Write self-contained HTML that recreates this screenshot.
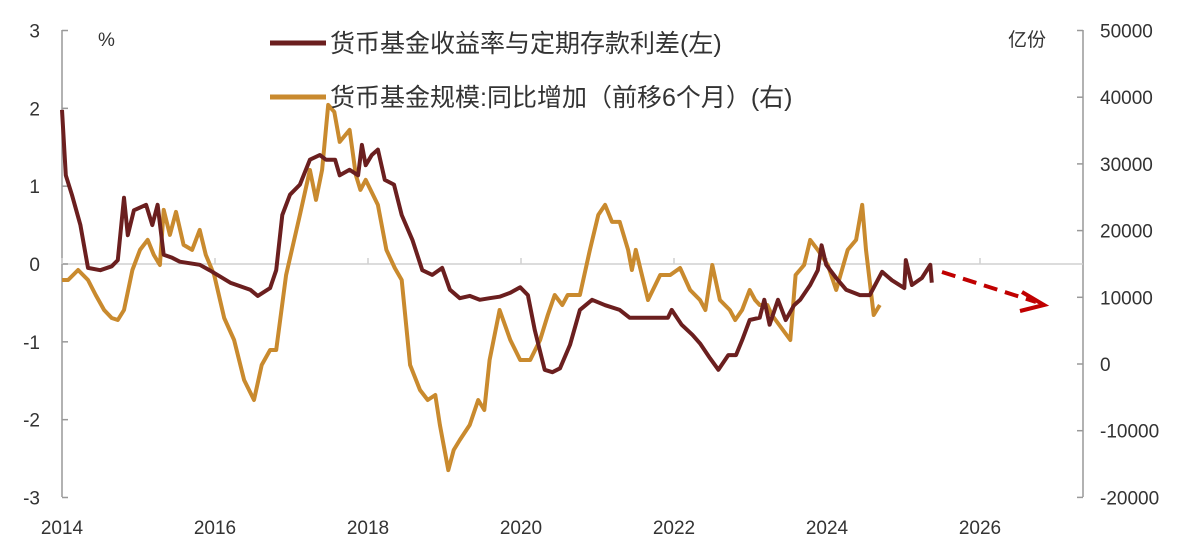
<!DOCTYPE html>
<html><head><meta charset="utf-8"><style>
body{margin:0;background:#fff;}
svg{display:block;font-family:"Liberation Sans","Noto Sans CJK SC",sans-serif;}
</style></head><body>
<svg id="chart" width="1197" height="555" viewBox="0 0 1197 555"></svg>
<script>
const spreadYears=[2014.00,2014.05,2014.13,2014.24,2014.34,2014.50,2014.65,2014.73,2014.81,2014.86,2014.94,2015.10,2015.18,2015.25,2015.33,2015.44,2015.54,2015.80,2015.93,2016.20,2016.46,2016.56,2016.72,2016.80,2016.88,2016.98,2017.11,2017.24,2017.37,2017.45,2017.57,2017.63,2017.76,2017.87,2017.92,2017.97,2018.05,2018.13,2018.22,2018.34,2018.44,2018.58,2018.71,2018.84,2018.97,2019.07,2019.20,2019.33,2019.46,2019.59,2019.72,2019.86,2019.99,2020.09,2020.18,2020.31,2020.41,2020.51,2020.64,2020.77,2020.93,2021.10,2021.29,2021.42,2021.69,2021.92,2021.97,2022.10,2022.24,2022.34,2022.47,2022.58,2022.71,2022.81,2022.89,2022.99,2023.12,2023.18,2023.25,2023.36,2023.46,2023.57,2023.65,2023.78,2023.88,2023.93,2023.99,2024.12,2024.25,2024.43,2024.56,2024.72,2024.85,2025.01,2025.03,2025.11,2025.24,2025.35,2025.37];
const spreadValues=[1.98,1.14,0.89,0.50,-0.05,-0.08,-0.03,0.05,0.85,0.37,0.69,0.76,0.50,0.76,0.12,0.08,0.03,-0.01,-0.08,-0.24,-0.33,-0.41,-0.31,-0.08,0.63,0.89,1.02,1.34,1.40,1.34,1.34,1.14,1.21,1.14,1.53,1.27,1.40,1.47,1.08,1.02,0.63,0.31,-0.08,-0.14,-0.05,-0.33,-0.44,-0.41,-0.46,-0.44,-0.42,-0.37,-0.30,-0.40,-0.85,-1.36,-1.39,-1.34,-1.04,-0.59,-0.46,-0.53,-0.59,-0.69,-0.69,-0.69,-0.59,-0.78,-0.91,-1.02,-1.21,-1.36,-1.17,-1.17,-0.98,-0.72,-0.69,-0.46,-0.78,-0.46,-0.72,-0.53,-0.46,-0.27,-0.08,0.24,-0.01,-0.18,-0.33,-0.40,-0.40,-0.10,-0.21,-0.31,0.05,-0.27,-0.18,-0.01,-0.24];
const scaleYears=[2014.00,2014.08,2014.21,2014.34,2014.44,2014.55,2014.65,2014.73,2014.81,2014.92,2015.02,2015.12,2015.20,2015.28,2015.33,2015.41,2015.49,2015.59,2015.70,2015.80,2015.88,2015.99,2016.12,2016.25,2016.38,2016.51,2016.61,2016.72,2016.80,2016.93,2017.11,2017.24,2017.32,2017.40,2017.48,2017.56,2017.63,2017.76,2017.84,2017.90,2017.97,2018.13,2018.24,2018.35,2018.44,2018.55,2018.68,2018.78,2018.88,2018.94,2019.05,2019.12,2019.20,2019.33,2019.44,2019.52,2019.59,2019.72,2019.86,2019.99,2020.12,2020.25,2020.35,2020.44,2020.54,2020.61,2020.77,2020.90,2021.01,2021.10,2021.19,2021.29,2021.40,2021.45,2021.50,2021.66,2021.82,2021.95,2022.08,2022.21,2022.34,2022.41,2022.50,2022.60,2022.73,2022.80,2022.89,2022.99,2023.06,2023.12,2023.22,2023.28,2023.52,2023.59,2023.70,2023.78,2023.88,2024.01,2024.12,2024.27,2024.38,2024.46,2024.51,2024.61,2024.69];
const scaleValues=[12600,12600,14100,12600,10350,8100,6900,6600,8100,14100,17100,18600,16350,14850,23100,19350,22800,17850,17100,20100,16350,13350,6900,3600,-2400,-5400,-150,2100,2100,13350,22350,29100,24600,29100,38850,37800,33300,35100,28350,26100,27600,23850,17100,14400,12600,-150,-3900,-5400,-4650,-9150,-15900,-12900,-11400,-9150,-5400,-6900,600,8100,3600,600,600,3600,7350,10350,8850,10350,10350,17100,22350,23850,21300,21300,17100,14100,17100,9600,13350,13350,14400,11100,9600,8100,14850,9600,8100,6600,8100,11100,9600,8850,8850,7350,3600,13350,14850,18600,17100,14850,11100,17100,18600,23850,17100,7350,8850];
const leftTicks=[3,2,1,0,-1,-2,-3];
const rightTicks=[50000,40000,30000,20000,10000,0,-10000,-20000];
const xTicks=[2014,2016,2018,2020,2022,2024,2026];

const NS="http://www.w3.org/2000/svg";
const svg=document.getElementById('chart');
const X0=62,X1=1083,yTop=30,yBot=497;
const xs=y=>X0+(y-2014)*76.5;
const yl=v=>264-v*77.83;
const yr=v=>364-v/10000*66.7;
function mk(tag,attrs,parent){const e=document.createElementNS(NS,tag);for(const k in attrs)e.setAttribute(k,attrs[k]);(parent||svg).appendChild(e);return e;}

// axes
let e=mk('line',{x1:X0,y1:yTop,x2:X0,y2:yBot,stroke:'#999','stroke-width':1.5});

e=mk('line',{x1:X1,y1:yTop,x2:X1,y2:yBot,stroke:'#999','stroke-width':1.5});

e=mk('line',{x1:X0,y1:yl(0),x2:X1,y2:yl(0),stroke:'#d0d0d0','stroke-width':1.5});


leftTicks.forEach(v=>{
  mk('line',{x1:X0,y1:yl(v),x2:X0+6,y2:yl(v),stroke:'#999','stroke-width':1.5});
  const t=mk('text',{x:40,y:yl(v)+7,'font-size':19,fill:'#333','text-anchor':'end'});
  t.textContent=v;
  
  
});
rightTicks.forEach(v=>{
  mk('line',{x1:X1-6,y1:yr(v),x2:X1,y2:yr(v),stroke:'#999','stroke-width':1.5});
  const t=mk('text',{x:1100,y:yr(v)+7,'font-size':19,fill:'#333'});
  t.textContent=v;
  
  
});
xTicks.forEach(v=>{
  mk('line',{x1:xs(v),y1:yl(0)-6,x2:xs(v),y2:yl(0),stroke:'#d0d0d0','stroke-width':1.5});
  const t=mk('text',{x:xs(v),y:534,'font-size':19,fill:'#333','text-anchor':'middle'});
  t.textContent=v;
  
  
});
let t=mk('text',{x:98,y:46,'font-size':19,fill:'#333'});t.textContent='%';

t=mk('text',{x:1008,y:46,'font-size':19,fill:'#333'});t.textContent='亿份';


// series
let d=scaleYears.map((y,i)=>(i?'L':'M')+xs(y).toFixed(1)+' '+yr(scaleValues[i]).toFixed(1)).join(' ');
e=mk('path',{d:d,fill:'none',stroke:'#c98a2e','stroke-width':4,'stroke-linejoin':'round'});

d=spreadYears.map((y,i)=>(i?'L':'M')+xs(y).toFixed(1)+' '+yl(spreadValues[i]).toFixed(1)).join(' ');
e=mk('path',{d:d,fill:'none',stroke:'#6b1f1f','stroke-width':4,'stroke-linejoin':'round'});


// arrow
e=mk('line',{x1:942,y1:272,x2:1036,y2:302,stroke:'#c00000','stroke-width':4,'stroke-dasharray':'14 8'});

e=mk('polyline',{points:'1022,292 1044,305 1020,311',fill:'none',stroke:'#c00000','stroke-width':4});


// legend
e=mk('line',{x1:270,y1:43,x2:326,y2:43,stroke:'#6b1f1f','stroke-width':5});

t=mk('text',{x:330,y:52,'font-size':25,fill:'#333'});t.textContent='货币基金收益率与定期存款利差(左)';

e=mk('line',{x1:270,y1:97,x2:326,y2:97,stroke:'#c98a2e','stroke-width':5});

t=mk('text',{x:330,y:106,'font-size':25,fill:'#333'});t.textContent='货币基金规模:同比增加（前移6个月）(右)';

</script>
</body></html>
